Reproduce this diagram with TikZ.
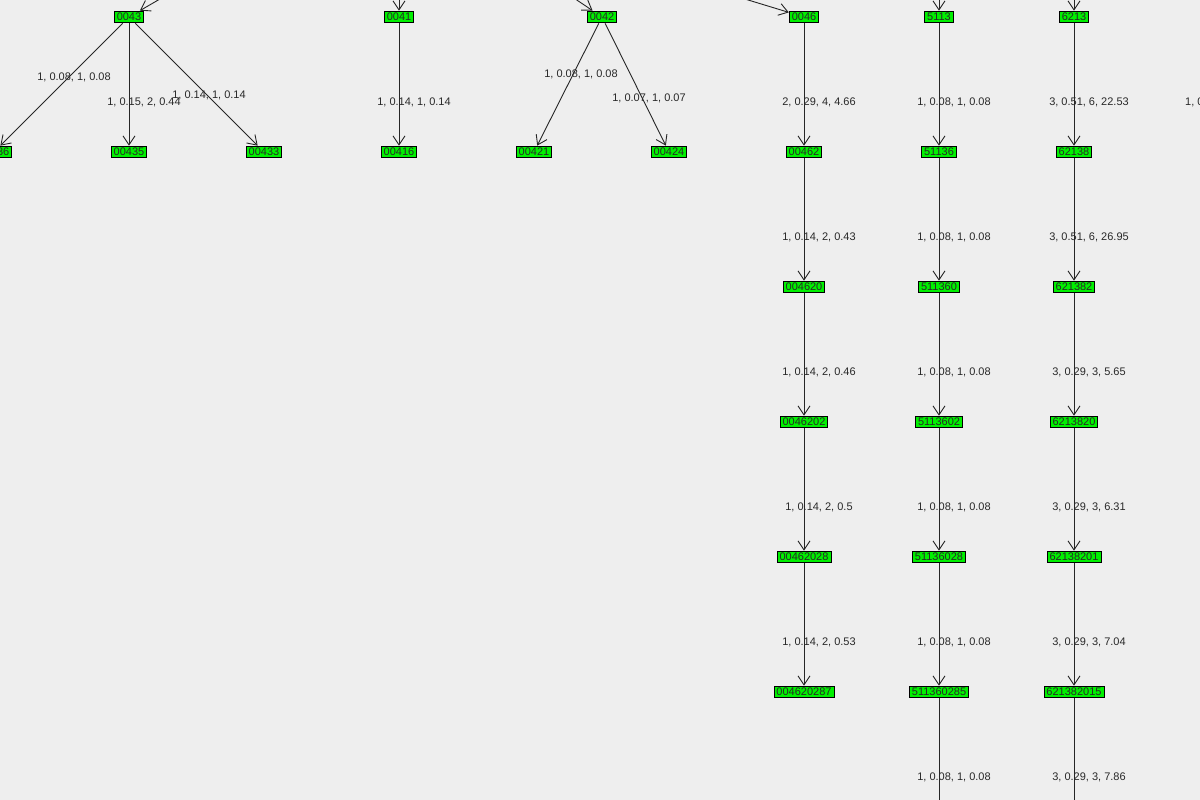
\documentclass[tikz,border=0pt]{standalone}
\usepackage{fontspec}
\setmainfont{Liberation Sans}
\usetikzlibrary{arrows.meta}
\definecolor{Bg}{RGB}{238,238,238}
\definecolor{Leaf}{RGB}{0,240,0}
\definecolor{Ink}{RGB}{40,40,40}
\tikzset{
  tnode/.style={draw=black,fill=Leaf,inner xsep=2.5pt,inner ysep=2pt,line width=0.9pt,font=\fontsize{11}{12}\selectfont,text=Ink},
  lbl/.style={font=\fontsize{11}{12}\selectfont,text=Ink,inner sep=0pt},
  edge/.style={draw=black!85,line width=0.9pt,-{Straight Barb[length=9pt,width=12pt,line width=0.9pt]}}
}
\begin{document}
\begin{tikzpicture}[x=1pt,y=-1pt]
\fill[Bg] (0,0) rectangle (1200,800);
\clip (0,0) rectangle (1200,800);
\useasboundingbox (0,0) rectangle (1200,800);
% top row
\node[tnode] (n0043) at (129,17) {0043};
\node[tnode] (n0041) at (399,17) {0041};
\node[tnode] (n0042) at (602,17) {0042};
\node[tnode] (n0046) at (804,17) {0046};
\node[tnode] (n5113) at (939,17) {5113};
\node[tnode] (n6213) at (1074,17) {6213};
\node[tnode] (n6214) at (1220,17) {6214};
% incoming from above (cut off)
\coordinate (i0043) at (172,-8);
\coordinate (i0041) at (399,-10);
\coordinate (i0042) at (562,-10);
\coordinate (i0046) at (735,-4);
\coordinate (i5113) at (939,-10);
\coordinate (i6213) at (1074,-10);
\draw[edge] (i0043) -- (n0043);
\draw[edge] (i0041) -- (n0041);
\draw[edge] (i0042) -- (n0042);
\draw[edge] (i0046) -- (n0046);
\draw[edge] (i5113) -- (n5113);
\draw[edge] (i6213) -- (n6213);
% second row
\node[tnode] (n00436) at (-6,152) {00436};
\node[tnode] (n00435) at (129,152) {00435};
\node[tnode] (n00433) at (264,152) {00433};
\node[tnode] (n00416) at (399,152) {00416};
\node[tnode] (n00421) at (534,152) {00421};
\node[tnode] (n00424) at (669,152) {00424};
\node[tnode] (n62141) at (1220,152) {62141};
\draw[edge] (n0043) -- (n00436);
\draw[edge] (n0043) -- (n00435);
\draw[edge] (n0043) -- (n00433);
\draw[edge] (n0041) -- (n00416);
\draw[edge] (n0042) -- (n00421);
\draw[edge] (n0042) -- (n00424);
\draw[edge] (n6214) -- (n62141);
\node[lbl] (l1) at (74,77) {1, 0.08, 1, 0.08};
\node[lbl] (l2) at (144,102) {1, 0.15, 2, 0.44};
\node[lbl] (l3) at (209,95) {1, 0.14, 1, 0.14};
\node[lbl] (l4) at (414,102) {1, 0.14, 1, 0.14};
\node[lbl] (l5) at (581,74) {1, 0.08, 1, 0.08};
\node[lbl] (l6) at (649,98) {1, 0.07, 1, 0.07};
\node[lbl,anchor=west] (l7) at (1185,102) {1, 0.08, 1, 0.08};

% chain under 0046
\foreach \name/\prev/\y/\lab in {00462/0046/152/{2, 0.29, 4, 4.66},
    004620/00462/287/{1, 0.14, 2, 0.43},
    0046202/004620/422/{1, 0.14, 2, 0.46},
    00462028/0046202/557/{1, 0.14, 2, 0.5},
    004620287/00462028/692/{1, 0.14, 2, 0.53}}{
  \node[tnode] (n\name) at (804,\y) {\name};
  \draw[edge] (n\prev) -- (n\name);
  \node[lbl] (l\name) at (819,\y-50) {\lab};
}
% chain under 5113
\foreach \name/\prev/\y/\lab in {51136/5113/152/{1, 0.08, 1, 0.08},
    511360/51136/287/{1, 0.08, 1, 0.08},
    5113602/511360/422/{1, 0.08, 1, 0.08},
    51136028/5113602/557/{1, 0.08, 1, 0.08},
    511360285/51136028/692/{1, 0.08, 1, 0.08}}{
  \node[tnode] (n\name) at (939,\y) {\name};
  \draw[edge] (n\prev) -- (n\name);
  \node[lbl] (l\name) at (954,\y-50) {\lab};
}
% chain under 6213
\foreach \name/\prev/\y/\lab in {62138/6213/152/{3, 0.51, 6, 22.53},
    621382/62138/287/{3, 0.51, 6, 26.95},
    6213820/621382/422/{3, 0.29, 3, 5.65},
    62138201/6213820/557/{3, 0.29, 3, 6.31},
    621382015/62138201/692/{3, 0.29, 3, 7.04}}{
  \node[tnode] (n\name) at (1074,\y) {\name};
  \draw[edge] (n\prev) -- (n\name);
  \node[lbl] (l\name) at (1089,\y-50) {\lab};
}
% continuing below the frame
\coordinate (o5113) at (939,840);
\coordinate (o6213) at (1074,840);
\draw[edge] (n511360285) -- (o5113);
\draw[edge] (n621382015) -- (o6213);
\node[lbl] (lo5113) at (954,777) {1, 0.08, 1, 0.08};
\node[lbl] (lo6213) at (1089,777) {3, 0.29, 3, 7.86};
\end{tikzpicture}
\end{document}
